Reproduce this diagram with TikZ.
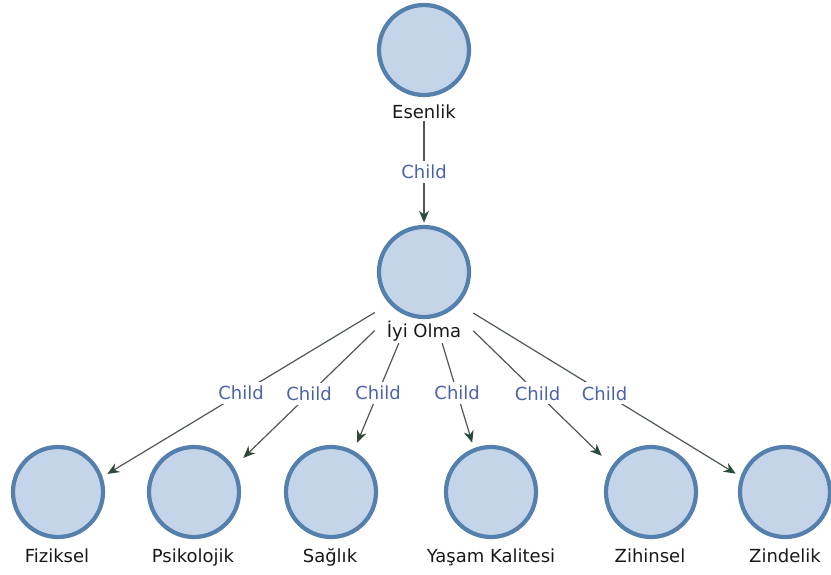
\documentclass[tikz,border=0pt]{standalone}
\usepackage{fontspec}
\setmainfont{DejaVu Sans}
\usepackage{tikz}
\usetikzlibrary{arrows.meta,fit}
\usepackage{xcolor}
\definecolor{ring}{HTML}{5580AE}
\definecolor{bubble}{HTML}{C4D5EA}
\definecolor{wire}{HTML}{4F5854}
\definecolor{tip}{HTML}{2C4A3A}
\definecolor{relblue}{HTML}{4C63A8}
\tikzset{
  concept/.style={circle,draw=ring,fill=bubble,line width=4.2pt,minimum size=90pt,inner sep=0pt},
  caption/.style={anchor=base,font=\fontsize{18}{21}\selectfont,text=black!90,inner sep=0pt},
  hull/.style={rectangle,inner sep=2pt},
  child/.style={-{Stealth[length=12pt,width=10pt,color=tip]},draw=wire,line width=1.2pt},
  rel/.style={midway,fill=white,text=relblue,font=\fontsize{18}{21}\selectfont,inner sep=4pt}
}

\begin{document}
\begin{tikzpicture}[x=1pt,y=-1pt]
\useasboundingbox[fill=white] (0,0) rectangle (831,574);

\node[concept] (esenlik) at (424,50) {};
\node[caption] (esenlik-t) at (424,118) {Esenlik};
\node[hull,fit=(esenlik) (esenlik-t)] (esenlik-box) {};

\node[concept] (iyi) at (424,272) {};
\node[caption] (iyi-t) at (424,337) {İyi Olma};
\node[hull,fit=(iyi) (iyi-t)] (iyi-box) {};

\node[concept] (fiz) at (58,492) {};
\node[caption] (fiz-t) at (57,562) {Fiziksel};
\node[hull,fit=(fiz) (fiz-t)] (fiz-box) {};

\node[concept] (psi) at (194,492) {};
\node[caption] (psi-t) at (193,562) {Psikolojik};
\node[hull,fit=(psi) (psi-t)] (psi-box) {};

\node[concept] (sag) at (331,492) {};
\node[caption] (sag-t) at (330,562) {Sağlık};
\node[hull,fit=(sag) (sag-t)] (sag-box) {};

\node[concept] (yas) at (491,492) {};
\node[caption] (yas-t) at (491,562) {Yaşam Kalitesi};
\node[hull,fit=(yas) (yas-t)] (yas-box) {};

\node[concept] (zih) at (651,492) {};
\node[caption] (zih-t) at (650,562) {Zihinsel};
\node[hull,fit=(zih) (zih-t)] (zih-box) {};

\node[concept] (zin) at (785,492) {};
\node[caption] (zin-t) at (785,562) {Zindelik};
\node[hull,fit=(zin) (zin-t)] (zin-box) {};

\draw[child] (esenlik-box) -- node[rel]{Child} (iyi-box);
\draw[child] (iyi-box) -- node[rel]{Child} (fiz-box);
\draw[child] (iyi-box) -- node[rel]{Child} (psi-box);
\draw[child] (iyi-box) -- node[rel]{Child} (sag-box);
\draw[child] (iyi-box) -- node[rel]{Child} (yas-box);
\draw[child] (iyi-box) -- node[rel]{Child} (zih-box);
\draw[child] (iyi-box) -- node[rel]{Child} (zin-box);
\end{tikzpicture}
\end{document}
